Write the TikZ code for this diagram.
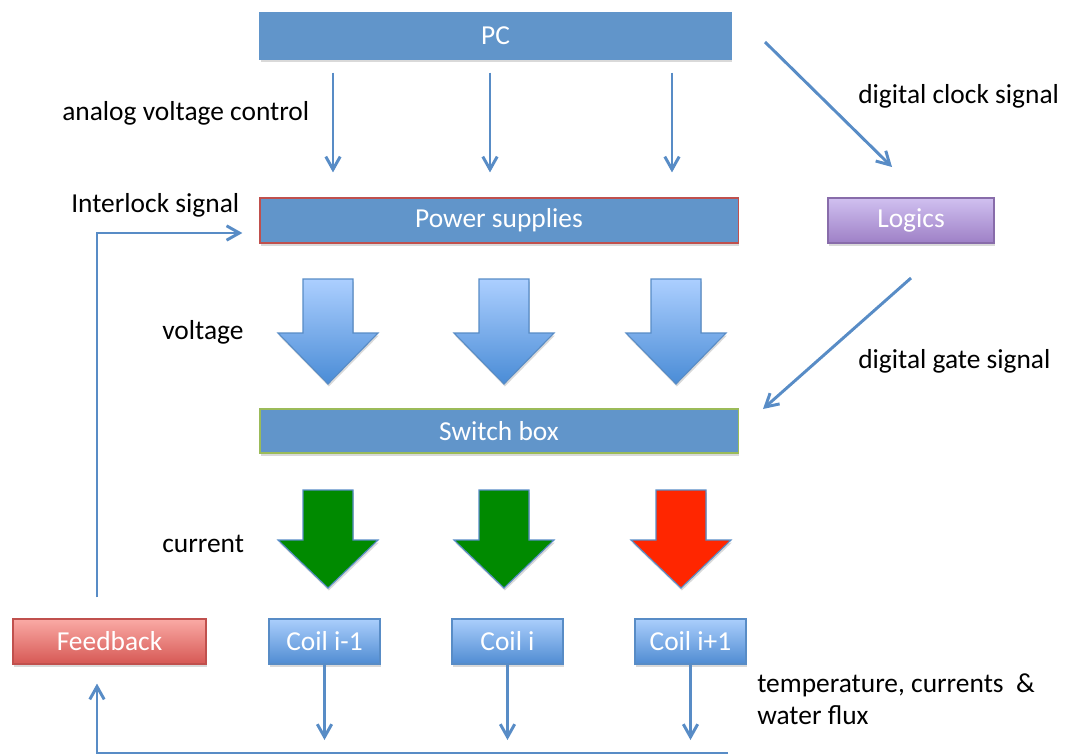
\documentclass[tikz,border=0pt]{standalone}
\usepackage{fontspec}
\setmainfont{Carlito}
\usetikzlibrary{arrows.meta,calc,shadows}
\definecolor{boxblue}{RGB}{97,149,202}
\definecolor{sigblue}{RGB}{88,140,198}
\definecolor{psred}{RGB}{192,80,77}
\definecolor{swgreen}{RGB}{155,187,89}
\definecolor{curgreen}{RGB}{0,138,0}
\definecolor{curred}{RGB}{255,38,0}

\begin{document}
\begin{tikzpicture}[x=0.025cm,y=-0.025cm,
  box/.style={rectangle,draw,line width=0.8pt,text=white,inner sep=0pt,
    font=\fontsize{19.5}{23}\selectfont,
    drop shadow={shadow xshift=0.6pt,shadow yshift=-1.8pt,opacity=0.3}},
  sig/.style={draw=sigblue,line width=2.1pt,-{Straight Barb[length=3.2mm,width=3.6mm]}},
  lbl/.style={anchor=base west,inner sep=0pt,font=\fontsize{19.5}{23}\selectfont},
  volt/.style={draw=sigblue,line width=0.8pt,top color={rgb,255:red,172;green,207;blue,255},
    bottom color={rgb,255:red,74;green,140;blue,214},
    drop shadow={shadow xshift=0.6pt,shadow yshift=-1.8pt,opacity=0.3}},
  cur/.style={draw=sigblue,line width=0.8pt,
    drop shadow={shadow xshift=0.6pt,shadow yshift=-1.8pt,opacity=0.3}}]
  \useasboundingbox (0,0) rectangle (1074,756);

  % boxes
  \node[box,fill=boxblue,draw=boxblue,minimum width=11.775cm,minimum height=1.15cm] (pc) at (495.5,36) {PC};
  \node[box,fill=boxblue,draw=psred,minimum width=11.95cm,minimum height=1.125cm] (ps) at (499,220.5) {Power supplies};
  \node[box,draw={rgb,255:red,136;green,108;blue,170},top color={rgb,255:red,208;green,192;blue,240},
    bottom color={rgb,255:red,158;green,128;blue,198},minimum width=4.15cm,minimum height=1.125cm] (lg) at (911,220.5) {Logics};
  \node[box,fill=boxblue,draw=swgreen,minimum width=11.95cm,minimum height=1.1cm] (sw) at (499,431) {Switch box};
  \node[box,draw=psred,top color={rgb,255:red,250;green,170;blue,165},
    bottom color={rgb,255:red,214;green,88;blue,84},minimum width=4.825cm,minimum height=1.125cm] (fb) at (109.5,641.5) {Feedback};
  \foreach \n/\x/\t in {c1/324.5/Coil i-1,c2/507.5/Coil i,c3/690.5/Coil i+1}
    \node[box,draw=sigblue,top color={rgb,255:red,170;green,206;blue,252},
      bottom color={rgb,255:red,80;green,140;blue,210},minimum width=2.775cm,minimum height=1.125cm] (\n) at (\x,641.5) {\t};

  % block arrows
  \foreach \x in {328,504,676}
    \draw[volt] (\x-25,279) -- (\x+25,279) -- (\x+25,333) -- (\x+50,333) -- (\x,384)
      -- (\x-50,333) -- (\x-25,333) -- cycle;
  \foreach \x/\col in {328/curgreen,504/curgreen,681/curred}
    \draw[cur,fill=\col] (\x-25,490) -- (\x+25,490) -- (\x+25,540) -- (\x+50,540) -- (\x,588)
      -- (\x-50,540) -- (\x-25,540) -- cycle;

  % signals
  \foreach \x in {333,490,672}
    \draw[sig,shorten <=0.325cm,shorten >=0.625cm] (\x,0 |- pc.south) -- (\x,0 |- ps.north);
  \coordinate (clkA) at (765,42);
  \coordinate (clkB) at (892,167);
  \draw[sig] (clkA) -- (clkB);
  \coordinate (gateA) at (911,278);
  \coordinate (gateB) at (763,409);
  \draw[sig] (gateA) -- (gateB);
  \draw[sig,shorten <=0.525cm,shorten >=0.425cm] ([xshift=-0.3125cm]fb.north) |- ([yshift=-0.3125cm]ps.west);
  \coordinate (bus) at (728,753);
  \foreach \c in {c1,c2,c3}
    \draw[sig,shorten >=0.325cm] (\c.south) -- (\c.south |- bus);
  \draw[sig,shorten >=0.475cm] (bus) -| ([xshift=-0.3125cm]fb.south);

  % labels
  \node[lbl] (tavc) at (62,120) {analog voltage control};
  \node[lbl] (tclk) at (858,103) {digital clock signal};
  \node[lbl] (tint) at (71,212) {Interlock signal};
  \node[lbl] (tvolt) at (162,339) {voltage};
  \node[lbl] (tgate) at (858,368) {digital gate signal};
  \node[lbl] (tcur) at (162,552) {current};
  \node[lbl] (ttmp) at (757,692) {temperature, currents\ \ \&};
  \node[lbl] (twat) at (757,724) {water flux};
\end{tikzpicture}
\end{document}
